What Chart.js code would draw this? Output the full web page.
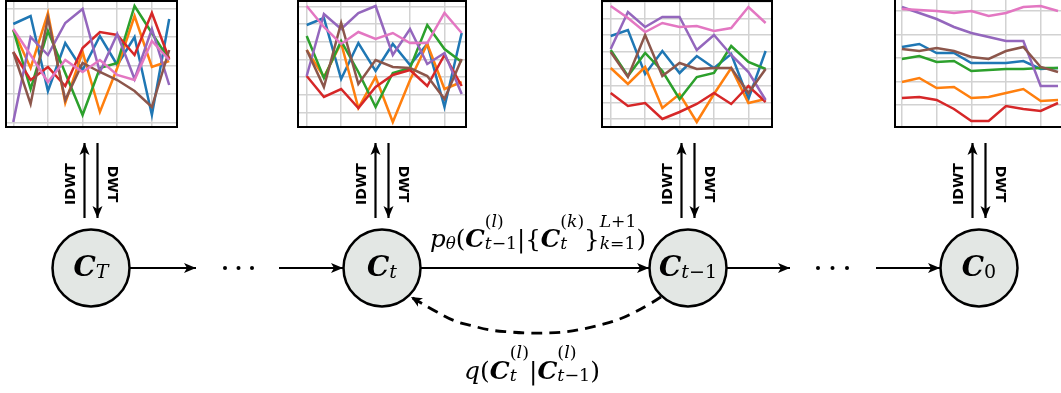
<!DOCTYPE html>
<html><head><meta charset="utf-8">
<script src="https://cdn.jsdelivr.net/npm/chart.js@4.4.1/dist/chart.umd.min.js"></script>
<style>
html,body{margin:0;padding:0;background:#fff;}
body{width:1061px;height:393px;overflow:hidden;position:relative;}
canvas{position:absolute;}
.math{position:absolute;font-family:'DejaVu Serif',serif;white-space:nowrap;line-height:3;color:#000;transform:translateX(-50%);}
.math i{font-style:italic;}
.C{font-weight:bold;font-style:italic;}
.sub{font-size:0.68em;vertical-align:-0.12em;}
.ss{display:inline-block;font-size:0.7em;line-height:1.3;vertical-align:-0.12em;text-align:left;}
.ss span{display:block;}
.rot{position:absolute;font-family:'DejaVu Sans',sans-serif;font-weight:bold;font-size:14px;line-height:1;white-space:nowrap;color:#000;}
</style></head>
<body>
<canvas id="diagram" width="1061" height="393" style="left:0;top:0"></canvas>
<canvas id="pT"></canvas>
<canvas id="pt"></canvas>
<canvas id="ptm1"></canvas>
<canvas id="p0"></canvas>

<div class="math" style="left:91px;top:225px;font-size:28px"><span class="C">C</span><span class="sub"><i>T</i></span></div>
<div class="math" style="left:382px;top:225px;font-size:28px"><span class="C">C</span><span class="sub"><i>t</i></span></div>
<div class="math" style="left:688px;top:225px;font-size:28px"><span class="C">C</span><span class="sub"><i>t</i>−1</span></div>
<div class="math" style="left:979px;top:225px;font-size:28px"><span class="C">C</span><span class="sub">0</span></div>

<div class="math" style="left:538px;top:202px;font-size:24.5px"><i>p</i><span class="sub"><i>θ</i></span>(<span class="C">C</span><span class="ss"><span>(<i>l</i>)</span><span><i>t</i>−1</span></span>|{<span class="C">C</span><span class="ss"><span>(<i>k</i>)</span><span><i>t</i></span></span>}<span class="ss"><span><i>L</i>+1</span><span><i>k</i>=1</span></span>)</div>
<div class="math" style="left:532px;top:333px;font-size:25px"><i>q</i>(<span class="C">C</span><span class="ss"><span>(<i>l</i>)</span><span><i>t</i></span></span>|<span class="C">C</span><span class="ss"><span>(<i>l</i>)</span><span><i>t</i>−1</span></span>)</div>

<div id="labels"></div>

<script>
// ---------- data ----------
const steps = [0,1,2,3,4,5,6,7,8,9];
const xGrid = [0,2,4,6,8];
const seriesColors = ['#1f77b4','#ff7f0e','#2ca02c','#d62728','#9467bd','#8c564b','#e377c2'];

// series order: blue, orange, green, red, purple, brown, pink
const panelCT = [
  [103,111,36,84,57,91,62,90,12,108],
  [97,59,114,24,75,15,59,111,60,66],
  [97,38,96,54,12,59,64,121,94,67],
  [75,47,60,41,79,95,92,72,114,68],
  [5,90,72,104,118,55,93,48,98,42],
  [75,23,109,27,64,55,47,36,20,77],
  [98,72,45,67,55,67,52,47,86,67]
];
const panelCt = [
  [102,109,48,84,56,83,62,83,20,94],
  [77,50,84,19,50,5,47,83,38,45],
  [91,49,86,55,20,54,59,102,78,65],
  [51,30,38,19,40,52,57,41,72,41],
  [51,113,98,114,121,72,98,63,74,33],
  [77,40,104,43,67,60,59,51,28,68],
  [121,100,83,95,88,94,84,84,114,94]
];
const panelCtm1 = [
  [91,97,53,76,54,71,59,73,28,76],
  [59,43,60,19,33,5,33,59,24,28],
  [77,51,74,56,28,50,54,81,65,58],
  [34,21,24,8,15,23,34,23,41,25],
  [78,115,100,110,110,77,92,72,55,27],
  [75,50,92,51,64,58,59,59,34,58],
  [121,109,95,104,100,101,96,99,120,104]
];
const panelC0 = [
  [80,83,74,74,64,64,64,66,58,59],
  [45,49,39,40,29,30,34,38,26,27],
  [68,71,65,66,56,57,58,58,59,59],
  [29,30,27,18,6,6,21,18,16,24],
  [120,114,108,100,94,90,86,86,41,41],
  [78,76,79,76,70,68,76,80,60,55],
  [118,117,116,114,116,111,114,120,121,116]
];
const gridCT   = [4.5,33,61.5,90,118.5];
const gridCt   = [14.5,32.2,49.9,67.6,85.3,103,120.7];
const gridCtm1 = [7.8,24.6,41.4,58.2,75,91.8,108.6,125.4];
const gridC0   = [22,45.5,69,92.5,116];

// diagram (node positions on the page plane)
const nodeX = [91, 382, 688, 979];
const nodeY = 268;
const chainArrows = [[130,196],[279,343],[421,649],[727,790],[876,940]];
const ellipsisX = [225,238.5,252,818,832.5,847];
const dwtTop = 143, dwtBottom = 218, dwtOffset = 6.5;
const backwardCurve = [[661,297],[648,305],[633,313],[617,320],[600,325],[583,329],[565,332],[547,333],[528,333],[510,332],[490,330],[473,326],[455,321],[437,312],[411,297]];

// ---------- panels ----------
const framePlugin = {
  id:'frame',
  afterDraw(chart){
    const {ctx, chartArea:a} = chart;
    ctx.save(); ctx.strokeStyle='#000'; ctx.lineWidth=2;
    ctx.strokeRect(a.left, a.top, a.right-a.left, a.bottom-a.top);
    ctx.restore();
  }
};
function makePanel(id, series, box, xMin, xMax, yMax, yGrid){
  const cv = document.getElementById(id);
  cv.width = box.w + 4; cv.height = box.h + 4;
  cv.style.left = (box.l - 2) + 'px'; cv.style.top = (box.t - 2) + 'px';
  const gridOpts = {color:'#d2d2d2', lineWidth:1.5, drawTicks:false, tickLength:0};
  new Chart(cv, {
    type:'line',
    data:{datasets: series.map((vals,i)=>({
      data: vals.map((v,j)=>({x:steps[j], y:v})),
      borderColor: seriesColors[i], borderWidth:2.5, pointRadius:0, tension:0,
      fill:false, order: series.length-1-i
    }))},
    options:{
      responsive:false, devicePixelRatio:1, animation:false, events:[],
      layout:{padding:2, autoPadding:false},
      plugins:{legend:{display:false}, tooltip:{enabled:false}},
      scales:{
        x:{type:'linear', min:xMin, max:xMax,
           afterBuildTicks:s=>{s.ticks = xGrid.map(v=>({value:v}));},
           ticks:{display:false}, grid:gridOpts, border:{display:false}},
        y:{type:'linear', min:0, max:yMax,
           afterBuildTicks:s=>{s.ticks = yGrid.map(v=>({value:v}));},
           ticks:{display:false}, grid:gridOpts, border:{display:false}}
      }
    },
    plugins:[framePlugin]
  });
}
makePanel('pT',   panelCT,   {l:6,   t:1,  w:171, h:126}, -0.42, 9.45, 126, gridCT);
makePanel('pt',   panelCt,   {l:298, t:1,  w:168, h:126}, -0.505, 9.25, 126, gridCt);
makePanel('ptm1', panelCtm1, {l:602, t:1,  w:170, h:126}, -0.505, 9.37, 126, gridCtm1);
makePanel('p0',   panelC0,   {l:895, t:-3, w:171, h:130}, -0.40, 9.46, 130, gridC0);

// ---------- diagram ----------
const arrowPlugin = {
  id:'arrowHeads',
  afterDatasetsDraw(chart){
    const ctx = chart.ctx;
    chart.data.datasets.forEach((ds,i)=>{
      if(!ds.arrow) return;
      const pts = chart.getDatasetMeta(i).data;
      const a = pts[pts.length-2], b = pts[pts.length-1];
      const ang = Math.atan2(b.y-a.y, b.x-a.x);
      const L = ds.headLen || 12, W = ds.headHalf || 5, N = 3;
      ctx.save(); ctx.translate(b.x, b.y); ctx.rotate(ang);
      ctx.beginPath(); ctx.moveTo(0,0); ctx.lineTo(-L,-W); ctx.lineTo(-L+N,0); ctx.lineTo(-L,W); ctx.closePath();
      ctx.fillStyle='#000'; ctx.fill(); ctx.restore();
    });
  }
};
function lineDs(pts, extra){
  return Object.assign({data: pts.map(([x,y])=>({x,y})), showLine:true, borderColor:'#000',
    borderWidth:2.2, pointRadius:0, tension:0, fill:false, arrow:true, order:1}, extra||{});
}
const ds = [];
ds.push({data: nodeX.map(x=>({x, y:nodeY})), showLine:false, pointRadius:38.5,
  pointBackgroundColor:'#e3e7e4', pointBorderColor:'#000', pointBorderWidth:2.5, order:0});
chainArrows.forEach(([a,b])=>ds.push(lineDs([[a,nodeY],[b,nodeY]])));
nodeX.forEach(x=>{
  ds.push(lineDs([[x-dwtOffset,dwtBottom],[x-dwtOffset,dwtTop]]));
  ds.push(lineDs([[x+dwtOffset,dwtTop],[x+dwtOffset,dwtBottom]]));
});
ds.push({data: ellipsisX.map(x=>({x,y:nodeY})), showLine:false, pointRadius:2,
  pointBackgroundColor:'#000', pointBorderWidth:0, order:1});
ds.push(lineDs(backwardCurve, {borderDash:[11,7], borderWidth:2.8, tension:0.4, headLen:11, headHalf:5}));

new Chart(document.getElementById('diagram'), {
  type:'scatter',
  data:{datasets: ds},
  options:{
    responsive:false, devicePixelRatio:1, animation:false, events:[],
    layout:{padding:0, autoPadding:false},
    plugins:{legend:{display:false}, tooltip:{enabled:false}},
    scales:{
      x:{type:'linear', min:0, max:1061, display:false},
      y:{type:'linear', min:0, max:393, reverse:true, display:false}
    }
  },
  plugins:[arrowPlugin]
});

// IDWT / DWT labels
const lab = document.getElementById('labels');
nodeX.forEach(x=>{
  const a = document.createElement('div'); a.className='rot'; a.textContent='IDWT';
  a.style.left = (x-21)+'px'; a.style.top='183.5px';
  a.style.transform='translate(-50%,-50%) rotate(-90deg)';
  const b = document.createElement('div'); b.className='rot'; b.textContent='DWT';
  b.style.left = (x+21.5)+'px'; b.style.top='184px';
  b.style.transform='translate(-50%,-50%) rotate(90deg)';
  lab.appendChild(a); lab.appendChild(b);
});
</script>
</body></html>
